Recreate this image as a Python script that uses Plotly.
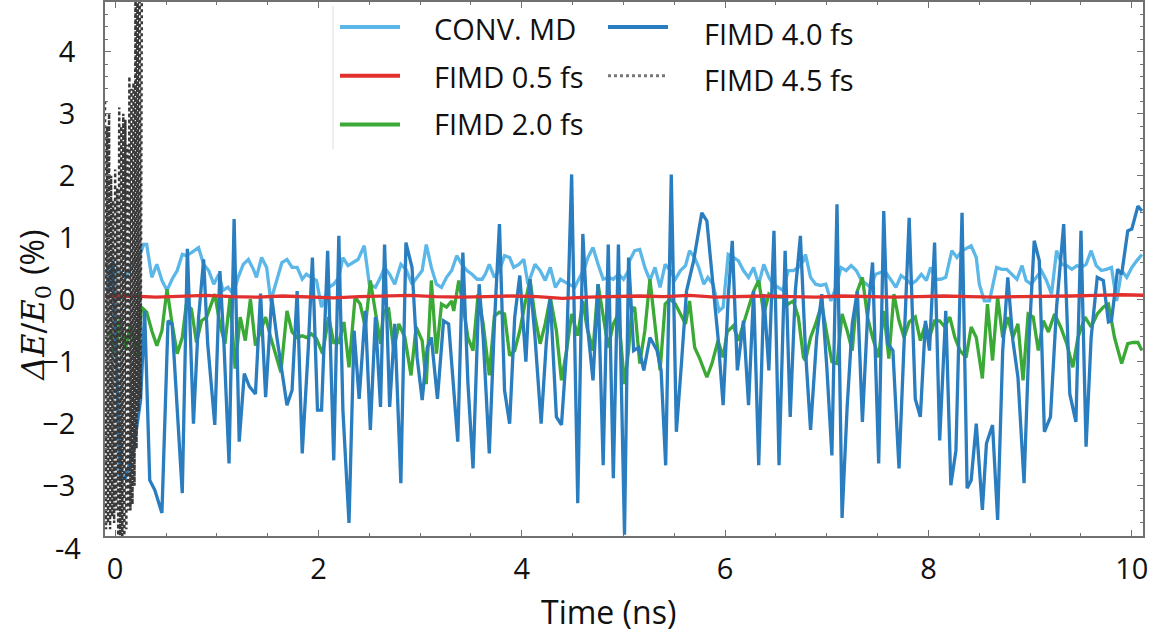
import plotly.graph_objects as go

# ---------------- data (time in ns, dE/E0 in %) ----------------
conv_t = [-0.09, -0.04, 0.02, 0.10, 0.18, 0.24, 0.28, 0.31, 0.36, 0.41, 0.46, 0.51, 0.56, 0.61, 0.66, 0.70, 0.75, 0.82, 0.87, 0.92, 0.97,
          1.02, 1.06, 1.11, 1.16, 1.21, 1.26, 1.31, 1.36, 1.39, 1.44, 1.49, 1.53, 1.58, 1.64, 1.69, 1.74, 1.79, 1.84, 1.88, 1.93, 1.98,
          2.03, 2.10, 2.15, 2.20, 2.24, 2.29, 2.34, 2.39, 2.45, 2.50, 2.56, 2.61, 2.65, 2.70, 2.75, 2.81, 2.86, 2.92, 2.97,
          3.02, 3.06, 3.11, 3.16, 3.21, 3.26, 3.31, 3.36, 3.41, 3.46, 3.51, 3.56, 3.61, 3.64, 3.68, 3.73, 3.78, 3.83, 3.88, 3.92, 3.97,
          4.02, 4.06, 4.13, 4.18, 4.23, 4.28, 4.33, 4.38, 4.43, 4.47, 4.52, 4.57, 4.62, 4.65, 4.70, 4.75, 4.80, 4.85, 4.90, 4.95,
          5.00, 5.05, 5.06, 5.11, 5.16, 5.21, 5.26, 5.31, 5.36, 5.41, 5.46, 5.51, 5.56, 5.61, 5.65, 5.70, 5.74, 5.79, 5.83, 5.88, 5.94, 5.98,
          6.03, 6.08, 6.13, 6.18, 6.23, 6.28, 6.33, 6.38, 6.43, 6.47, 6.52, 6.57, 6.62, 6.67, 6.72, 6.77, 6.79, 6.84, 6.89, 6.94, 6.99,
          7.04, 7.09, 7.14, 7.19, 7.24, 7.29, 7.34, 7.39, 7.43, 7.48, 7.53, 7.58, 7.63, 7.68, 7.73, 7.78, 7.83, 7.88, 7.93, 7.98,
          8.02, 8.07, 8.12, 8.17, 8.23, 8.28, 8.33, 8.38, 8.42, 8.47, 8.50, 8.55, 8.60, 8.67, 8.72, 8.77, 8.82, 8.87, 8.92, 8.96,
          9.01, 9.06, 9.11, 9.16, 9.21, 9.26, 9.31, 9.36, 9.41, 9.46, 9.50, 9.55, 9.60, 9.65, 9.70, 9.75, 9.80, 9.85, 9.90, 9.95,
          10.00, 10.05, 10.10]
conv_y = [0.60, 0.30, 0.50, 0.35, 0.60, 0.70, 0.89, 0.89, 0.36, 0.57, 0.31, 0.15, 0.33, 0.47, 0.73, 0.71, 0.76, 0.84, 0.57, 0.47, 0.25,
          0.41, 0.15, 0.20, 0.09, 0.36, 0.57, 0.65, 0.49, 0.36, 0.68, 0.52, -0.02, 0.25, 0.60, 0.65, 0.52, 0.52, 0.33, 0.41, 0.36, 0.31,
          -0.12, 0.20, 0.25, 0.36, 0.68, 0.55, 0.60, 0.65, 0.87, 0.25, 0.20, 0.36, 0.52, 0.41, 0.25, 0.57, 0.49, 0.25, 0.36,
          0.47, 0.89, 0.52, 0.25, 0.20, 0.36, 0.47, 0.71, 0.57, 0.47, 0.41, 0.33, 0.33, 0.41, 0.57, 0.36, 0.47, 0.71, 0.68, 0.52, 0.57,
          0.65, 0.25, 0.57, 0.47, 0.31, 0.52, 0.20, 0.33, 0.28, 0.25, 0.20, 0.36, 0.52, 0.68, 0.84, 0.57, 0.33, 0.36, 0.33, 0.41,
          0.33, 0.47, 0.63, 0.79, 0.81, 0.52, 0.31, 0.52, 0.20, 0.57, 0.47, 0.33, 0.47, 0.55, 0.79, 0.68, 0.52, 0.25, 0.36, 0.25, -0.18, -0.12,
          0.73, 0.68, 0.63, 0.47, 0.36, 0.52, 0.25, 0.57, 0.36, 0.25, 0.20, 0.15, 0.47, 0.47, 0.52, 0.63, 0.73, 0.36, 0.25, 0.23, 0.25,
          -0.02, 0.20, 0.52, 0.47, 0.55, 0.47, 0.31, 0.25, 0.20, 0.41, 0.44, 0.44, 0.31, 0.20, 0.39, 0.33, 0.25, 0.31, 0.41, 0.31,
          0.52, 0.33, 0.33, 0.36, 0.79, 0.68, 0.79, 0.84, 0.87, 0.68, 0.25, -0.02, -0.02, 0.52, 0.49, 0.49, 0.41, 0.33, 0.55, 0.31,
          0.25, 0.36, 0.47, 0.31, 0.09, 0.79, 0.57, 0.55, 0.49, 0.55, 0.52, 0.57, 0.79, 0.55, 0.47, 0.49, 0.52, -0.02, 0.47, 0.36,
          0.52, 0.63, 0.73]

fimd05_t = [-0.10, 0.15, 0.40, 0.65, 0.90, 1.15, 1.40, 1.65, 1.90, 2.15, 2.40, 2.65, 2.90, 3.15, 3.40, 3.65, 3.90, 4.15, 4.40, 4.65,
            4.90, 5.15, 5.40, 5.65, 5.90, 6.15, 6.40, 6.65, 6.90, 7.15, 7.40, 7.65, 7.90, 8.15, 8.40, 8.65, 8.90, 9.15, 9.40, 9.65,
            9.90, 10.15]
fimd05_y = [0.05, 0.06, 0.04, 0.05, 0.07, 0.05, 0.04, 0.06, 0.05, 0.03, 0.05, 0.06, 0.07, 0.05, 0.04, 0.05, 0.06, 0.05, 0.02, 0.04,
            0.05, 0.06, 0.05, 0.07, 0.04, 0.05, 0.06, 0.05, 0.04, 0.06, 0.05, 0.04, 0.05, 0.06, 0.05, 0.04, 0.05, 0.05, 0.06, 0.07,
            0.08, 0.07]

fimd20_t = [-0.05, 0.00, 0.05, 0.10, 0.15, 0.22, 0.26, 0.31, 0.36, 0.41, 0.46, 0.51, 0.56, 0.61, 0.66, 0.70, 0.75, 0.80, 0.85, 0.90,
            0.98, 1.03, 1.08, 1.13, 1.18, 1.23, 1.28, 1.33, 1.38, 1.43, 1.48, 1.53, 1.57, 1.63, 1.69, 1.74, 1.79, 1.84, 1.88, 1.93, 1.98,
            2.04, 2.10, 2.15, 2.20, 2.25, 2.30, 2.36, 2.41, 2.46, 2.51, 2.56, 2.61, 2.64, 2.69, 2.74, 2.79, 2.85, 2.91, 2.96,
            3.02, 3.06, 3.11, 3.16, 3.21, 3.26, 3.31, 3.33, 3.38, 3.43, 3.47, 3.52, 3.57, 3.62, 3.68, 3.73, 3.78, 3.83, 3.88, 3.93, 3.98,
            4.03, 4.08, 4.13, 4.18, 4.23, 4.28, 4.34, 4.39, 4.44, 4.49, 4.55, 4.60, 4.64, 4.70, 4.75, 4.80, 4.85, 4.90, 4.95,
            5.01, 5.05, 5.08, 5.11, 5.16, 5.21, 5.26, 5.31, 5.36, 5.41, 5.46, 5.51, 5.56, 5.61, 5.65, 5.70, 5.75, 5.82, 5.87, 5.93, 5.98,
            6.02, 6.08, 6.13, 6.18, 6.23, 6.28, 6.33, 6.38, 6.43, 6.47, 6.52, 6.57, 6.62, 6.67, 6.72, 6.77, 6.79, 6.84, 6.89, 6.95,
            7.00, 7.05, 7.10, 7.15, 7.20, 7.25, 7.30, 7.35, 7.40, 7.45, 7.51, 7.56, 7.61, 7.66, 7.71, 7.76, 7.81, 7.87, 7.92, 7.97,
            8.01, 8.06, 8.11, 8.16, 8.21, 8.26, 8.31, 8.37, 8.42, 8.47, 8.53, 8.58, 8.63, 8.68, 8.73, 8.78, 8.83, 8.88, 8.93, 8.98,
            9.03, 9.08, 9.13, 9.18, 9.24, 9.30, 9.36, 9.42, 9.47, 9.54, 9.60, 9.66, 9.72, 9.77, 9.83, 9.90, 9.96, 10.01, 10.06, 10.10]
fimd20_y = [-0.50, -0.90, -0.30, -0.80, -0.40, -0.90, -0.12, -0.20, -0.50, -0.74, -0.50, 0.17, -0.39, -0.87, -0.61, -0.07, -0.15, -0.69, -0.34, -0.28,
            0.09, -0.39, -0.71, 0.04, -1.11, -0.28, -0.66, 0.01, -0.74, -0.50, -0.28, -0.61, -0.82, -1.17, -0.18, -0.52, -0.61, -0.58, -0.61, -0.55, -0.63,
            -0.87, -0.28, -0.69, -0.69, -0.36, -1.09, 0.04, -0.07, -0.44, 0.31, -0.23, -0.71, -0.18, -0.15, -0.82, -0.39, -0.61, -1.22, -0.44,
            -0.66, -1.36, 0.31, -0.87, -0.07, -0.12, -0.02, -0.18, 0.31, -0.18, -0.61, -0.82, 0.09, -0.39, -1.22, -0.26, -0.20, -0.23, -0.90, -0.82, -0.50,
            -0.07, 0.33, -0.28, -0.71, -0.39, 0.04, -0.50, -1.30, -0.82, -0.23, -0.58, -0.02, -0.44, -0.82, 0.25, -0.28, -0.77, -0.39, -0.23,
            -1.36, -0.82, -0.18, -0.12, -1.03, -0.50, 0.33, -0.39, -1.14, -0.07, 0.01, -0.07, -0.23, -0.39, -0.02, -0.77, -0.95, -1.25, -1.03, -0.66, -0.93,
            -0.52, -0.42, -0.66, -0.39, -0.12, 0.14, 0.31, -0.23, 0.09, 0.04, 0.04, 0.04, -0.07, -0.02, -0.28, -0.93, -0.98, -0.61, -0.39, -0.07,
            -0.55, -1.00, -1.03, -0.23, -0.50, -0.82, 0.14, 0.36, -0.28, -0.61, -0.93, -0.18, -0.95, 0.09, -0.34, -0.61, -0.36, -0.28, -0.66, -0.39,
            -0.61, -0.34, -0.34, -0.44, -0.28, -0.61, -0.82, -0.93, -0.44, -0.61, -1.27, -0.07, -0.98, 0.04, -0.61, -0.28, -0.61, -0.39, -1.30, -0.23,
            -0.28, -0.82, -0.34, -0.52, -0.23, -0.44, -0.71, -1.09, -0.61, -0.28, -0.44, -0.23, -0.12, -0.07, -0.61, -1.03, -0.71, -0.69, -0.69, -0.82]

fimd40_t = [-0.07, -0.02, 0.05, 0.10, 0.18, 0.25, 0.29, 0.34, 0.39, 0.46, 0.52, 0.56, 0.66, 0.71, 0.77, 0.82, 0.87, 0.91, 0.98,
            1.03, 1.07, 1.12, 1.17, 1.22, 1.27, 1.32, 1.38, 1.43, 1.48, 1.54, 1.59, 1.64, 1.69, 1.74, 1.79, 1.84, 1.90, 1.94, 1.99,
            2.03, 2.09, 2.15, 2.20, 2.24, 2.30, 2.35, 2.40, 2.46, 2.51, 2.56, 2.61, 2.65, 2.70, 2.75, 2.81, 2.86, 2.92, 2.97,
            3.02, 3.07, 3.11, 3.17, 3.23, 3.28, 3.33, 3.37, 3.42, 3.47, 3.52, 3.58, 3.62, 3.68, 3.73, 3.78, 3.83, 3.88, 3.93, 3.98,
            4.04, 4.08, 4.13, 4.19, 4.24, 4.28, 4.34, 4.39, 4.44, 4.49, 4.55, 4.60, 4.65, 4.70, 4.75, 4.80, 4.85, 4.90, 4.95,
            5.01, 5.05, 5.10, 5.15, 5.20, 5.26, 5.33, 5.37, 5.415, 5.47, 5.52, 5.57, 5.62, 5.69, 5.77, 5.82, 5.87, 5.93, 5.98,
            6.03, 6.07, 6.12, 6.18, 6.23, 6.28, 6.33, 6.38, 6.43, 6.48, 6.53, 6.59, 6.64, 6.69, 6.74, 6.79, 6.84, 6.90, 6.95,
            7.00, 7.05, 7.10, 7.15, 7.20, 7.25, 7.30, 7.35, 7.40, 7.45, 7.51, 7.56, 7.60, 7.65, 7.71, 7.76, 7.81, 7.87, 7.92, 7.97,
            8.01, 8.06, 8.11, 8.17, 8.22, 8.27, 8.33, 8.38, 8.42, 8.47, 8.53, 8.57, 8.63, 8.68, 8.73, 8.78, 8.83, 8.88, 8.94, 8.99,
            9.04, 9.09, 9.14, 9.20, 9.26, 9.33, 9.39, 9.45, 9.50, 9.55, 9.60, 9.66, 9.72, 9.77, 9.80, 9.86, 9.90, 9.96, 10.00, 10.06, 10.10]
fimd40_y = [0.10, 0.63, -2.88, -2.88, -2.43, -1.62, -0.18, -2.91, -3.07, -3.44, -0.34, -0.39, -3.12, 0.82, -2.00, -0.30, 0.65, -0.71, -2.02,
            0.46, -0.71, -2.64, 1.30, -2.29, -1.19, -1.40, -1.52, 0.10, -1.57, 0.04, -0.60, -1.14, -1.70, -1.46, 0.14, -2.48, -0.77, 0.68, -1.78,
            -1.78, 0.79, -2.59, 1.03, -1.78, -3.60, -0.50, -1.60, -0.18, -2.10, -0.28, -1.73, 0.89, -1.73, -0.39, -2.96, 0.92, 0.52, -0.93,
            -1.62, -0.77, -0.61, -1.60, -0.34, -0.39, -1.46, -2.29, 0.76, -1.35, -2.72, 0.25, -0.61, -2.48, -0.39, 1.22, -1.46, -2.00, -0.28, 0.39,
            -1.00, 0.33, -0.61, -2.00, -0.71, 0.04, -1.89, -2.02, -0.82, 2.02, -3.28, 1.06, -0.50, -1.30, 0.25, -2.67, 0.89, -2.88, 0.89,
            -3.79, 0.68, -0.82, -0.77, -1.14, -0.61, -0.82, -1.14, -2.67, 2.02, -2.13, -1.03, 0.14, 0.63, 1.40, 1.27, 0.41, -0.61, -1.70,
            0.04, 0.95, -1.14, -0.34, -1.70, 0.14, -2.67, 0.09, -1.14, 1.11, -2.67, 0.79, -1.89, 0.14, 1.03, -0.82, -2.10, -0.61, 0.09,
            -1.09, -2.51, 1.54, -3.52, -1.73, -0.39, 0.14, -1.97, -0.28, 0.60, -2.64, 1.43, -0.71, -0.82, -2.72, -0.61, 1.32, -1.60, -1.89, -0.34,
            -0.82, 0.92, -2.27, -0.18, -2.99, -2.43, 1.40, -3.04, -2.91, -2.00, -3.39, -2.32, -2.02, -3.55, -0.82, 0.36, -0.66, -1.25, -2.96, -0.61,
            0.95, 0.63, -2.13, -1.89, -0.12, 1.22, -1.52, -1.97, 1.11, -2.37, -0.61, 0.36, 0.31, -0.36, -0.34, 0.49, 0.41, 1.11, 1.14, 1.51, 1.43]

fimd45_t = [-0.10, -0.09, -0.08, -0.07, -0.06, -0.05, -0.04, -0.03, -0.02, -0.01, 0.00, 0.01, 0.02, 0.03, 0.04, 0.05, 0.06, 0.07, 0.08,
            0.09, 0.10, 0.11, 0.12, 0.13, 0.14, 0.15, 0.16, 0.17, 0.18, 0.19, 0.20, 0.21, 0.22, 0.23, 0.24, 0.25, 0.26, 0.27]
fimd45_y = [3.2, -3.7, 2.8, -3.6, 3.0, -3.7, 2.0, -3.5, 1.6, -3.6, 2.1, -3.4, 1.8, -3.9, 3.1, -3.9, 2.8, -3.9, 3.0,
            -3.9, 2.9, -3.7, 2.5, -3.4, 3.6, -3.4, 3.4, -3.3, 3.5, -3.0, 5.5, -2.4, 6.0, -1.8, 6.5, -1.6, 7.5, 9.0]

series_names = ["CONV. MD", "FIMD 0.5 fs", "FIMD 2.0 fs", "FIMD 4.0 fs", "FIMD 4.5 fs"]
x_ticks = [0, 2, 4, 6, 8, 10]
y_ticks = [-3, -2, -1, 0, 1, 2, 3, 4]

# ---------------- styles ----------------
C_CONV = "#5BB7E8"
C_05 = "#E2302F"
C_20 = "#3AA935"
C_40 = "#2A7DBE"
C_45 = "#3A3A3A"
FONT = "Open Sans"

fig = go.Figure()
fig.add_trace(go.Scatter(x=conv_t, y=conv_y, mode="lines", name=series_names[0],
                         line=dict(color=C_CONV, width=3.3)))
fig.add_trace(go.Scatter(x=fimd20_t, y=fimd20_y, mode="lines", name=series_names[2],
                         line=dict(color=C_20, width=3.3)))
fig.add_trace(go.Scatter(x=fimd40_t, y=fimd40_y, mode="lines", name=series_names[3],
                         line=dict(color=C_40, width=3.3)))
fig.add_trace(go.Scatter(x=fimd05_t, y=fimd05_y, mode="lines", name=series_names[1],
                         line=dict(color=C_05, width=3.3)))
fig.add_trace(go.Scatter(x=fimd45_t, y=fimd45_y, mode="lines", name=series_names[4],
                         line=dict(color=C_45, width=2.5, dash="dot")))

axis_common = dict(
    showgrid=False, zeroline=False, showline=True, linecolor="#707070", linewidth=1.5,
    mirror="ticks", ticks="inside", ticklen=6, tickwidth=1.2, tickcolor="#707070",
    tickfont=dict(family=FONT, size=29, color="#111"),
)
fig.update_xaxes(range=[-0.1, 10.11], tickvals=x_ticks, ticklabelstandoff=6,
                 minor=dict(dtick=0.5, ticks="inside", ticklen=3, tickcolor="#707070"),
                 **axis_common)
fig.update_yaxes(range=[-3.81, 4.80], tickvals=y_ticks, ticklabelstandoff=22,
                 minor=dict(dtick=0.2, ticks="inside", ticklen=3, tickcolor="#707070"),
                 **axis_common)

PX0, PW, PH = 105, 1038, 536
def px(xp):
    return (xp - PX0) / PW
def py(yp):
    return (PH - yp) / PH

annotations = [
    dict(text="-4", x=px(83), y=py(548), xref="paper", yref="paper", xanchor="right", yanchor="middle",
         showarrow=False, font=dict(family=FONT, size=29, color="#111")),
    dict(text="Time (ns)", x=px(608), y=py(612), xref="paper", yref="paper", xanchor="center", yanchor="middle",
         showarrow=False, font=dict(family=FONT, size=32, color="#111")),
    dict(text="<i>ΔE</i>/<i>E</i><sub>0</sub> <span style='font-family:Open Sans'>(%)</span>",
         x=px(33), y=py(305), xref="paper", yref="paper", xanchor="center", yanchor="middle",
         textangle=-90, showarrow=False, font=dict(family="DejaVu Serif", size=32, color="#111")),
]

shapes = [dict(type="line", xref="paper", yref="paper", x0=px(333), x1=px(333), y0=py(4), y1=py(148),
               line=dict(color="#DDDDDD", width=1))]
legend_items = [
    (series_names[0], C_CONV, "solid", 340, 432, 25, 27),
    (series_names[1], C_05, "solid", 340, 432, 74, 75),
    (series_names[2], C_20, "solid", 340, 432, 123, 122),
    (series_names[3], C_40, "solid", 608, 702, 25, 32),
    (series_names[4], "#777777", "dot", 608, 702, 74, 78),
]
for name, col, dash, lx, tx, ly, ty in legend_items:
    shapes.append(dict(type="line", xref="paper", yref="paper", x0=px(lx), x1=px(lx + 60), y0=py(ly), y1=py(ly),
                       line=dict(color=col, width=4 if dash == "solid" else 3, dash=dash)))
    annotations.append(dict(text=name, x=px(tx), y=py(ty), xref="paper", yref="paper", xanchor="left",
                            yanchor="middle", showarrow=False, font=dict(family=FONT, size=29, color="#111")))

fig.update_layout(
    width=1158, height=640, margin=dict(l=PX0, r=15, t=0, b=104),
    paper_bgcolor="white", plot_bgcolor="white", showlegend=False,
    annotations=annotations, shapes=shapes,
)

fig.write_html("out.html")
